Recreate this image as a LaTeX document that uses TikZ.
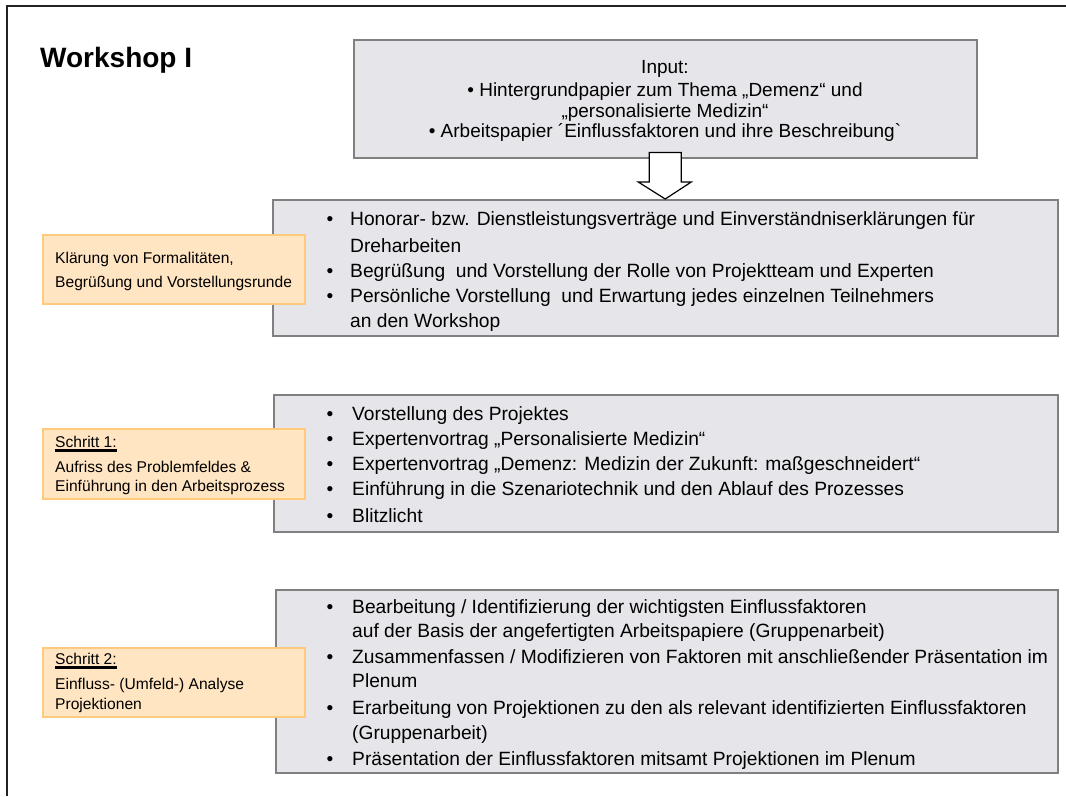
\documentclass[tikz,border=0pt]{standalone}
\usepackage{fontspec}
\setmainfont{Liberation Sans}[Ligatures=TeXOff]
\usetikzlibrary{calc}
\definecolor{boxfill}{HTML}{E5E5EA}
\definecolor{boxborder}{HTML}{808080}
\definecolor{orfill}{HTML}{FFE5C2}
\definecolor{orborder}{HTML}{FFCA7C}
\definecolor{framecol}{HTML}{222222}
\newcommand\myul[1]{\setbox0\hbox{#1}\rlap{\rule[-5pt]{\wd0}{3pt}}\box0}
\tikzset{
  graybox/.style={draw=boxborder, fill=boxfill, line width=1.5pt, inner sep=0pt, anchor=north west},
  orangebox/.style={draw=orborder, fill=orfill, line width=1.5pt, inner sep=0pt, anchor=north west},
  body/.style={anchor=base west, inner sep=0pt, font=\fontsize{19.2}{23}\selectfont},
  bul/.style={anchor=base, inner sep=0pt, font=\fontsize{19.2}{23}\selectfont},
  inp/.style={anchor=base, inner sep=0pt, font=\fontsize{19}{22}\selectfont},
  otext/.style={anchor=base west, inner sep=0pt, font=\fontsize{15.6}{19}\selectfont},
  title/.style={anchor=base west, inner sep=0pt, font=\fontsize{28}{32}\selectfont\bfseries},
  framel/.style={draw=framecol, line width=1.5pt},
  blockarr/.style={draw=black, fill=white, line width=1.2pt, line join=miter}
}
\begin{document}
\begin{tikzpicture}[x=1pt, y=-1pt]
\useasboundingbox (0,0) rectangle (1066,796);
% frame
\coordinate (fr1) at (1066,6);
\coordinate (fr2) at (7,6);
\coordinate (fr3) at (7,796);
\draw[framel] (fr1) -- (fr2) -- (fr3);
% title
\node[title] (title) at (40,67) {Workshop I};
% input box
\node[graybox, minimum width=623pt, minimum height=118pt] (input) at (353,39) {};
\node[inp] (in1) at (665,73) {Input:};
\node[inp] (in2) at (665,96) {• Hintergrundpapier zum Thema „Demenz“ und};
\node[inp] (in3) at (665,117) {„personalisierte Medizin“};
\node[inp] (in4) at (665,137) {• Arbeitspapier ´Einflussfaktoren und ihre Beschreibung`};
% boxes
\node[graybox, minimum width=785pt, minimum height=136pt] (b2) at (272,199) {};
\node[graybox, minimum width=784pt, minimum height=137pt] (b3) at (273,394) {};
\node[graybox, minimum width=782pt, minimum height=183pt] (b4) at (275,589) {};
% arrow
\coordinate (atop) at ($(input.south)+(0,-6)$);
\coordinate (atip) at (b2.north);
\draw[blockarr] ($(atop)+(-16,0)$) -- ($(atop)+(16,0)$) -- ($(atip)+(16,-17)$) -- ($(atip)+(26,-17)$) -- (atip) -- ($(atip)+(-27,-17)$) -- ($(atip)+(-16,-17)$) -- cycle;
% box 2 text
\node[bul] (b2u1) at (330,225) {•};
\node[body] (b2l1) at (350,225) {Honorar- bzw. Dienstleistungsverträge und Einverständniserklärungen für};
\node[body] (b2l2) at (350,252) {Dreharbeiten};
\node[bul] (b2u2) at (330,277) {•};
\node[body] (b2l3) at (350,277) {Begrüßung\ \ und Vorstellung der Rolle von Projektteam und Experten};
\node[bul] (b2u3) at (330,302) {•};
\node[body] (b2l4) at (350,302) {Persönliche Vorstellung\ \ und Erwartung jedes einzelnen Teilnehmers};
\node[body] (b2l5) at (350,327) {an den Workshop};
% box 3 text
\node[bul] (b3u1) at (330,420) {•};
\node[body] (b3l1) at (352,420) {Vorstellung des Projektes};
\node[bul] (b3u2) at (330,445) {•};
\node[body] (b3l2) at (352,445) {Expertenvortrag „Personalisierte Medizin“};
\node[bul] (b3u3) at (330,470) {•};
\node[body] (b3l3) at (352,470) {Expertenvortrag „Demenz: Medizin der Zukunft: maßgeschneidert“};
\node[bul] (b3u4) at (330,495) {•};
\node[body] (b3l4) at (352,495) {Einführung in die Szenariotechnik und den Ablauf des Prozesses};
\node[bul] (b3u5) at (330,522) {•};
\node[body] (b3l5) at (352,522) {Blitzlicht};
% box 4 text
\node[bul] (b4u1) at (330,613) {•};
\node[body] (b4l1) at (352,613) {Bearbeitung / Identifizierung der wichtigsten Einflussfaktoren};
\node[body] (b4l2) at (352,637) {auf der Basis der angefertigten Arbeitspapiere (Gruppenarbeit)};
\node[bul] (b4u2) at (330,663) {•};
\node[body] (b4l3) at (352,663) {Zusammenfassen / Modifizieren von Faktoren mit anschließender Präsentation im};
\node[body] (b4l4) at (352,687) {Plenum};
\node[bul] (b4u3) at (330,714) {•};
\node[body] (b4l5) at (352,714) {Erarbeitung von Projektionen zu den als relevant identifizierten Einflussfaktoren};
\node[body] (b4l6) at (352,739) {(Gruppenarbeit)};
\node[bul] (b4u4) at (330,765) {•};
\node[body] (b4l7) at (352,765) {Präsentation der Einflussfaktoren mitsamt Projektionen im Plenum};
% orange boxes
\node[orangebox, minimum width=262pt, minimum height=69pt] (o1) at (42,234) {};
\node[otext] (o1l1) at (55,263) {Klärung von Formalitäten,};
\node[otext] (o1l2) at (55,287) {Begrüßung und Vorstellungsrunde};
\node[orangebox, minimum width=262pt, minimum height=70pt] (o2) at (42,428) {};
\node[otext] (o2l1) at (55,447) {\myul{Schritt 1:}};
\node[otext] (o2l2) at (55,472) {Aufriss des Problemfeldes \&};
\node[otext] (o2l3) at (55,491) {Einführung in den Arbeitsprozess};
\node[orangebox, minimum width=262pt, minimum height=69pt] (o3) at (42,647) {};
\node[otext] (o3l1) at (55,664) {\myul{Schritt 2:}};
\node[otext] (o3l2) at (55,689) {Einfluss- (Umfeld-) Analyse};
\node[otext] (o3l3) at (55,709) {Projektionen};
\end{tikzpicture}
\end{document}
